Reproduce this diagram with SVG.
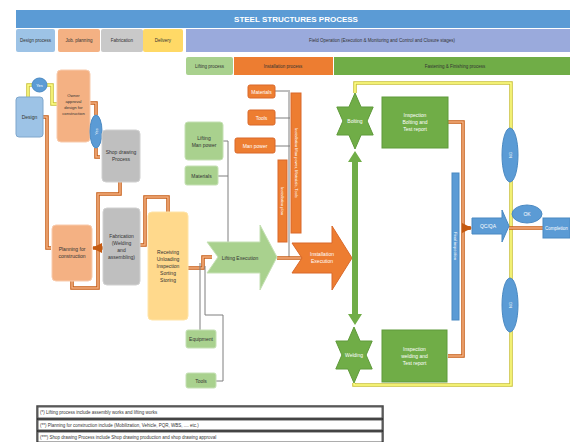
<svg xmlns="http://www.w3.org/2000/svg" width="570" height="442" viewBox="0 0 570 442">
<style>
text{font-family:"Liberation Sans",Arial,sans-serif;text-anchor:middle;dominant-baseline:central}
.t5{font-size:5px;fill:#333}
.w5{font-size:5px;fill:#fff}
.lb{fill:#9dc3e6;stroke:#7ea6cc;stroke-width:1}
.sal{fill:#f4b183;stroke:#f8cbad;stroke-width:1}
.gr{fill:#bfbfbf;stroke:#d0d0d0;stroke-width:1}
.yl{fill:#ffd98c;stroke:#ffe4a8;stroke-width:1}
.lg{fill:#a9d18e;stroke:#c5e0b4;stroke-width:1}
.dg{fill:#70ad47;stroke:#5f9a3a;stroke-width:1}
.or{fill:#ed7d31;stroke:#d9692a;stroke-width:1}
.bl{fill:#5b9bd5;stroke:#4a89c2;stroke-width:1}
.oc{fill:none;stroke:#c55a11;stroke-width:3.5}
.oi{fill:none;stroke:#f4b183;stroke-width:1.5}
.gl{fill:none;stroke:#7f7f7f;stroke-width:1}
.yc{fill:none;stroke:#c9c036;stroke-width:3.5}
.yi{fill:none;stroke:#ffff88;stroke-width:1.5}
</style>
<defs>
<marker id="ah" viewBox="0 0 10 10" refX="9" refY="5" markerWidth="3" markerHeight="3" orient="auto"><path d="M0 0L10 5L0 10z" fill="#c55a11"/></marker>
<polygon id="star" points="0,-28 6.06,-14 18.2,-14 12.1,0 18.2,14 6.06,14 0,28 -6.06,14 -18.2,14 -12.1,0 -18.2,-14 -6.06,-14"/>
</defs>
<rect width="570" height="442" fill="#fff"/>

<g id="header">
<rect x="16" y="10" width="554" height="18" fill="#5b9bd5"/>
<text x="296" y="19" style="font-size:8px;fill:#fff;font-weight:bold">STEEL STRUCTURES PROCESS</text>
<rect x="16" y="29" width="39" height="23" rx="2" fill="#9dc3e6"/>
<text x="35.5" y="40.5" class="t5" style="font-size:4.5px">Design process</text>
<rect x="58" y="29" width="42" height="23" rx="2" fill="#f4b183"/>
<text x="79" y="40.5" class="t5" style="font-size:4.5px">Job. planning</text>
<rect x="101" y="29" width="42" height="23" rx="2" fill="#c9c9c9"/>
<text x="122" y="40.5" class="t5" style="font-size:4.5px">Fabrication</text>
<rect x="143" y="29" width="40" height="23" rx="2" fill="#ffd966"/>
<text x="163" y="40.5" class="t5" style="font-size:4.5px">Delivery</text>
<rect x="186" y="29" width="384" height="23" fill="#9aaadc"/>
<text x="382" y="40.5" class="t5" style="font-size:4.5px">Field Operation (Execution &amp; Monitoring and Control and Closure stages)</text>
<rect x="186" y="57" width="47" height="18" rx="2" fill="#a9d18e"/>
<text x="209.5" y="66" class="t5" style="font-size:4.5px">Lifting process</text>
<rect x="234" y="57" width="99" height="18" fill="#ed7d31"/>
<text x="283" y="66" class="t5" style="font-size:4.5px">Installation process</text>
<rect x="334" y="57" width="236" height="18" fill="#70ad47"/>
<text x="455" y="66" class="t5" style="font-size:4.5px">Fastening &amp; Finishing process</text>
</g>

<g id="connectors">
<path class="yc" d="M28 97V85H32M47 85H52V104H57"/>
<path class="yi" d="M28 97V85H32M47 85H52V104H57"/>
<path class="oc" d="M90 103H96V115M96 148V157H100"/>
<path class="oi" d="M90 103H96V115M96 148V157H100"/>
<path class="oc" d="M43 117H47V248H51"/>
<path class="oi" d="M43 117H47V248H51"/>
<path class="oc" d="M120 182V194H98V288H72V281"/>
<path class="oi" d="M120 182V194H98V288H72V281"/>
<path class="oc" d="M103 248H93" marker-end="url(#ah)"/>
<path class="oc" d="M140 245H145V197H168V212"/>
<path class="oi" d="M140 245H145V197H168V212"/>
<path class="oc" d="M188 268H203V257H212"/>
<path class="oi" d="M188 268H203V257H212"/>
<path class="gl" d="M223 141H228V246M218 176H228"/>
<path class="gl" d="M200 263V330M216 381H223V315H205V266"/>
<path class="gl" d="M275 91H290M275 118H290M275 146H290M289 92V258"/>
<path class="oc" d="M277 258H302"/>
<path class="oi" d="M277 258H302"/>
<path class="yc" d="M355 93V83H511V385H354V383"/>
<path class="yi" d="M355 93V83H511V385H354V383"/>
<path class="oc" d="M448 122H463V356H448M463 228H470"/>
<path class="oi" d="M448 122H463V356H448"/>
<path class="oc" d="M463 228H471" marker-end="url(#ah)"/>
<path class="oc" d="M509 228H543"/>
<path class="oi" d="M509 228H543"/>
</g>

<g id="n-design"><rect x="16" y="97" width="27" height="40" rx="3" class="lb"/><text x="29.5" y="117" class="t5">Design</text></g>
<g id="n-yes1"><ellipse cx="39.5" cy="85" rx="7.5" ry="7" class="bl"/><text x="39.5" y="85" class="w5" style="font-size:4px">Yes</text></g>
<g id="n-owner"><rect x="57" y="70" width="33" height="72" rx="4" class="sal"/>
<text class="t5" style="font-size:4.2px"><tspan x="73.5" y="95">Owner</tspan><tspan x="73.5" y="101">approval</tspan><tspan x="73.5" y="107">design for</tspan><tspan x="73.5" y="113">construction</tspan></text></g>
<g id="n-yes2"><ellipse cx="96" cy="131.5" rx="6" ry="16.5" class="bl"/><text transform="translate(96 131.5) rotate(-90)" class="w5" style="font-size:4px">Yes</text></g>
<g id="n-shop"><rect x="102" y="130" width="38" height="52" rx="4" class="gr"/>
<text class="t5"><tspan x="121" y="152">Shop drawing</tspan><tspan x="121" y="159">Process</tspan></text></g>
<g id="n-planning"><rect x="52" y="225" width="40" height="56" rx="4" class="sal"/>
<text class="t5"><tspan x="72" y="249">Planning for</tspan><tspan x="72" y="256">construction</tspan></text></g>
<g id="n-fab"><rect x="103" y="208" width="37" height="77" rx="4" class="gr"/>
<text class="t5"><tspan x="121.5" y="236">Fabrication</tspan><tspan x="121.5" y="243">(Welding</tspan><tspan x="121.5" y="250">and</tspan><tspan x="121.5" y="257">assembling)</tspan></text></g>
<g id="n-receiving"><rect x="148" y="212" width="40" height="108" rx="4" class="yl"/>
<text class="t5"><tspan x="168" y="252">Receiving</tspan><tspan x="168" y="259">Unloading</tspan><tspan x="168" y="266">Inspection</tspan><tspan x="168" y="273">Sorting</tspan><tspan x="168" y="280">Storing</tspan></text></g>
<g id="n-liftman"><rect x="185" y="122" width="38" height="38" rx="3" class="lg"/>
<text class="t5"><tspan x="204" y="138">Lifting</tspan><tspan x="204" y="145">Man power</tspan></text></g>
<g id="n-liftmat"><rect x="185" y="166" width="33" height="19" rx="2" class="lg"/><text x="201.5" y="175.5" class="t5">Materials</text></g>
<g id="n-equip"><rect x="186" y="330" width="30" height="18" rx="2" class="lg"/><text x="201" y="339" class="t5">Equipment</text></g>
<g id="n-tools"><rect x="186" y="373" width="30" height="15" rx="2" class="lg"/><text x="201" y="380.5" class="t5">Tools</text></g>
<g id="n-liftexec"><polygon points="207,242 260,242 260,225 277,257 260,290 260,273 207,273 218,257" class="lg"/><text x="240" y="257.5" class="t5">Lifting Execution</text></g>
<g id="n-imat"><rect x="248" y="85" width="27" height="13" rx="2" class="or"/><text x="261.5" y="91.5" class="w5">Materials</text></g>
<g id="n-itools"><rect x="248" y="110" width="27" height="15" rx="2" class="or"/><text x="261.5" y="117.5" class="w5">Tools</text></g>
<g id="n-iman"><rect x="235" y="138" width="40" height="15" rx="2" class="or"/><text x="255" y="145.5" class="w5">Man power</text></g>
<g id="n-barA"><rect x="291" y="93" width="10" height="140" class="or"/><text transform="translate(296 163) rotate(90)" class="w5" style="font-size:4px">Installation Man power, Materials, Tools</text></g>
<g id="n-barB"><rect x="278" y="160" width="9" height="82" class="or"/><text transform="translate(282.5 201) rotate(90)" class="w5" style="font-size:4px">Installation plan</text></g>
<g id="n-instexec"><polygon points="292,243 332,243 332,226 352,258 332,290 332,273 292,273 302,258" class="or"/>
<text class="w5"><tspan x="322" y="254">Installation</tspan><tspan x="322" y="261">Execution</tspan></text></g>
<g id="n-greenarrow"><polygon points="355,151 362,162 358,162 358,314 362,314 355,325 348,314 352,314 352,162 348,162" fill="#70ad47"/></g>
<g id="n-bolting"><use href="#star" transform="translate(355 121)" class="dg"/><text x="355" y="121" class="w5">Bolting</text></g>
<g id="n-boltinsp"><rect x="382" y="97" width="66" height="51" class="dg"/>
<text class="w5"><tspan x="415" y="115">Inspection</tspan><tspan x="415" y="122">Bolting and</tspan><tspan x="415" y="129">Test report</tspan></text></g>
<g id="n-welding"><use href="#star" transform="translate(354 355)" class="dg"/><text x="354" y="355" class="w5">Welding</text></g>
<g id="n-weldinsp"><rect x="382" y="330" width="65" height="52" class="dg"/>
<text class="w5"><tspan x="414.5" y="349">Inspection</tspan><tspan x="414.5" y="356">welding and</tspan><tspan x="414.5" y="363">Test report</tspan></text></g>
<g id="n-bluebar"><rect x="452" y="173" width="7" height="147" class="bl"/><text transform="translate(455.5 246) rotate(90)" class="w5" style="font-size:4px">Final inspection</text></g>
<g id="n-qc"><polygon points="472,218 502,218 502,210 509,226 502,242 502,234 472,234" class="bl"/><text x="488" y="226" class="w5">QC/QA</text></g>
<g id="n-ng1"><ellipse cx="510" cy="155" rx="8" ry="27" class="bl"/><text transform="translate(510 155) rotate(-90)" class="w5" style="font-size:4px">NG</text></g>
<g id="n-ng2"><ellipse cx="510" cy="305" rx="8" ry="27" class="bl"/><text transform="translate(510 305) rotate(-90)" class="w5" style="font-size:4px">NG</text></g>
<g id="n-ok"><ellipse cx="527" cy="214" rx="15" ry="9" class="bl"/><text x="527" y="214" class="w5">OK</text></g>
<g id="n-completion"><rect x="543" y="218" width="27" height="20" class="bl"/><text x="556.5" y="228" class="w5" style="font-size:4.5px">Completion</text></g>

<g id="notes">
<rect x="37" y="406" width="346" height="36" fill="#fff" stroke="#444" stroke-width="1.5"/>
<rect x="38" y="407" width="344" height="11" fill="#fff" stroke="#333" stroke-width="0.8"/>
<rect x="38" y="420" width="344" height="10" fill="#fff" stroke="#333" stroke-width="0.8"/>
<rect x="38" y="432" width="344" height="10" fill="#fff" stroke="#333" stroke-width="0.8"/>
<path d="M37 419H383M37 431H383" stroke="#222" stroke-width="1.5"/>
<text x="40" y="412.5" class="t5" style="text-anchor:start;font-size:4.5px">(*) Lifting process include assembly works and lifting works</text>
<text x="40" y="425" class="t5" style="text-anchor:start;font-size:4.5px">(**) Planning for construction include (Mobilization, Vehicle, PQR, WBS, .... etc.)</text>
<text x="40" y="437" class="t5" style="text-anchor:start;font-size:4.5px">(***) Shop drawing Process include Shop drawing production and shop drawing approval</text>
</g>
</svg>
